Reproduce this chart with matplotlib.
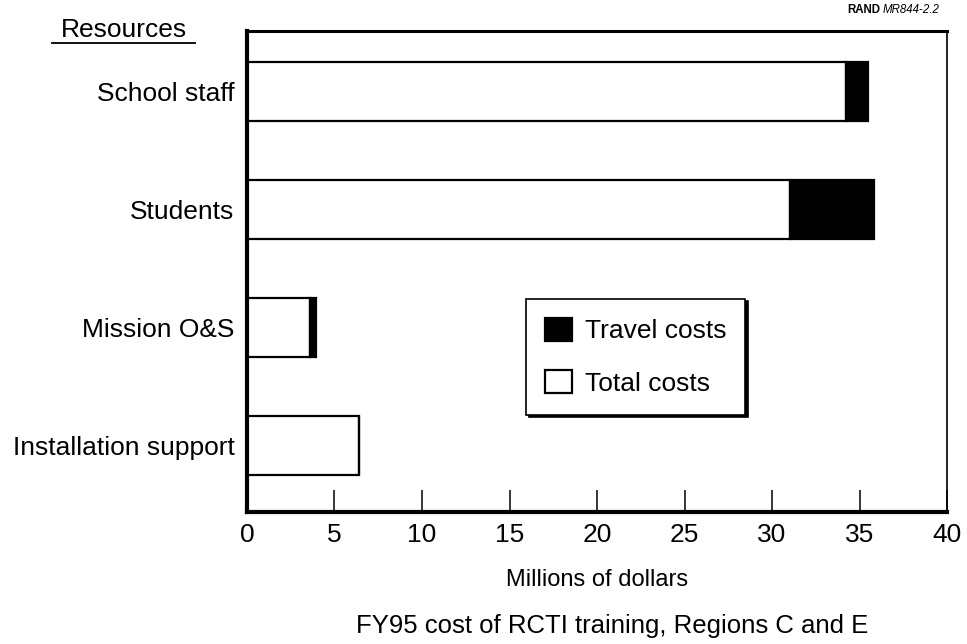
import matplotlib
matplotlib.use("Agg")
import matplotlib.pyplot as plt
from matplotlib.patches import Patch
from matplotlib.lines import Line2D

# data (millions of dollars)
resources = ["School staff", "Students", "Mission O&S", "Installation support"]
other_costs = [34.2, 31.0, 3.6, 6.4]
travel_costs = [1.3, 4.8, 0.35, 0.0]
x_ticks = [0, 5, 10, 15, 20, 25, 30, 35, 40]

plt.rcParams['font.family'] = ['Liberation Sans', 'DejaVu Sans']

fig = plt.figure(figsize=(9.67, 6.44), dpi=100)
ax = fig.add_axes([0.2554, 0.205, 0.724, 0.7465])

ypos = list(range(len(resources)))
ax.barh(ypos, other_costs, height=0.5, color="white", edgecolor="black", linewidth=1.6)
ax.barh(ypos, travel_costs, left=other_costs, height=0.5, color="black",
        edgecolor="black", linewidth=1.6)

ax.set_xlim(0, 40)
ax.set_ylim(3.56, -0.51)
ax.set_yticks(ypos)
ax.set_yticklabels(resources, fontsize=19)
ax.set_xticks(x_ticks)
ax.set_xticklabels([str(t) for t in x_ticks], fontsize=19)
ax.tick_params(axis="y", length=0, pad=9)
ax.tick_params(axis="x", direction="in", length=16, width=1.1, pad=8)

# frame: heavy left/bottom/top, thin right
ax.spines["left"].set_linewidth(3.0)
ax.spines["bottom"].set_linewidth(3.0)
ax.spines["top"].set_linewidth(2.2)
ax.spines["right"].set_linewidth(1.2)

ax.set_xlabel("Millions of dollars", fontsize=17, labelpad=16)

handles = [Patch(facecolor="black", edgecolor="black", linewidth=1.6),
           Patch(facecolor="white", edgecolor="black", linewidth=1.6)]
leg = ax.legend(handles, ["Travel costs", "Total costs"], loc="upper left",
                bbox_to_anchor=(0.399, 0.444), fontsize=19, frameon=True,
                fancybox=False, edgecolor="black", framealpha=1,
                shadow={"color": "black", "alpha": 1},
                handlelength=1.0, handleheight=1.0, handletextpad=0.5,
                labelspacing=1.0, borderpad=0.72, borderaxespad=0)
leg.get_frame().set_linewidth(1.2)

# header over the labels
fig.text(124 / 967, 1 - 30 / 644, "Resources", fontsize=19, ha="center", va="center")
fig.add_artist(Line2D([52 / 967, 195 / 967], [1 - 43 / 644, 1 - 43 / 644],
                      color="black", linewidth=1.3))

fig.text(880 / 967, 1 - 10 / 644, "RAND", fontsize=8.3, fontweight="bold",
         ha="right", va="center")
fig.text(883 / 967, 1 - 10 / 644, "MR844-2.2", fontsize=8.3, style="italic",
         ha="left", va="center")

fig.text(612 / 967, 1 - 626 / 644, "FY95 cost of RCTI training, Regions C and E",
         fontsize=18.5, ha="center", va="center")

fig.savefig("out.png", dpi=100)
